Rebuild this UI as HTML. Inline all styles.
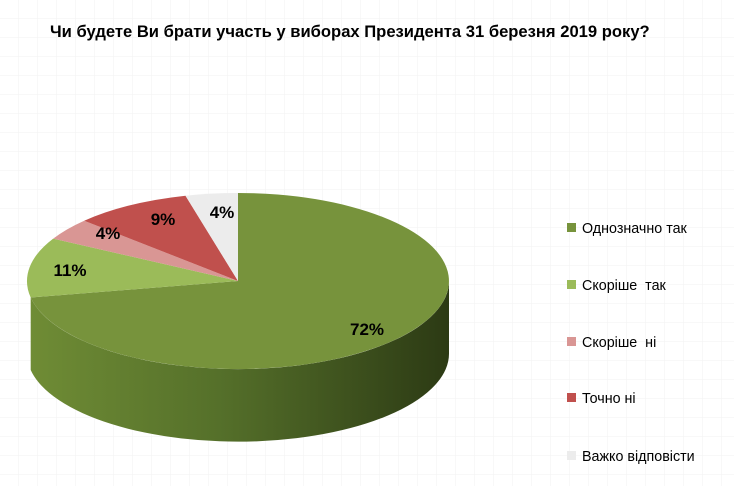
<!DOCTYPE html>
<html><head><meta charset="utf-8"><style>
html,body{margin:0;padding:0;background:#fff}
body{width:734px;height:486px;overflow:hidden;position:relative;font-family:"Liberation Sans","DejaVu Sans",sans-serif}
</style></head><body>
<svg width="734" height="486" viewBox="0 0 734 486" xmlns="http://www.w3.org/2000/svg">
<defs>
<pattern id="g" width="19" height="19" patternUnits="userSpaceOnUse">
<path d="M19 0V19M0 19H19" stroke="#f2f2f2" stroke-width="1" fill="none"/>
</pattern>
<linearGradient id="side" x1="0" x2="1" y1="0" y2="0">
<stop offset="0" stop-color="#6f8c35"/>
<stop offset="0.45" stop-color="#55702a"/>
<stop offset="1" stop-color="#2c3a14"/>
</linearGradient>
</defs>
<rect width="734" height="486" fill="url(#g)"/>
<text x="50" y="37" font-size="16.6" font-weight="bold" fill="#000">Чи будете Ви брати участь у виборах Президента 31 березня 2019 року?</text>
<path d="M449,281 A211,88 0 0 1 30.7,297.5 L30.7,370 A211,88 0 0 0 449,353 Z" fill="url(#side)"/>
<path d="M238,281 L238,193 A211,88 0 1 1 30.7,297.5 Z" fill="#77933c"/>
<path d="M238,281 L30.7,297.5 A211,88 0 0 1 53.2,238.6 Z" fill="#9bbb59"/>
<path d="M238,281 L53.2,238.6 A211,88 0 0 1 84.2,220.7 Z" fill="#d99694"/>
<path d="M238,281 L84.2,220.7 A211,88 0 0 1 185.5,195.7 Z" fill="#c0504d"/>
<path d="M238,281 L185.5,195.7 A211,88 0 0 1 238,193 Z" fill="#ececec"/>
<g font-size="17" font-weight="bold" fill="#000" text-anchor="middle">
<text x="367" y="335">72%</text>
<text x="70" y="276">11%</text>
<text x="108" y="239">4%</text>
<text x="163" y="225">9%</text>
<text x="222" y="218">4%</text>
</g>
<g font-size="14.3" fill="#000">
<rect x="567" y="223" width="9" height="9" fill="#77933c"/><text x="582" y="233">Однозначно так</text>
<rect x="567" y="280" width="9" height="9" fill="#9bbb59"/><text x="582" y="290" xml:space="preserve">Скоріше  так</text>
<rect x="567" y="337" width="9" height="9" fill="#d99694"/><text x="582" y="347" xml:space="preserve">Скоріше  ні</text>
<rect x="567" y="393" width="9" height="9" fill="#c0504d"/><text x="582" y="403">Точно ні</text>
<rect x="567" y="451" width="9" height="9" fill="#ececec"/><text x="582" y="461">Важко відповісти</text>
</g>
</svg>
</body></html>
